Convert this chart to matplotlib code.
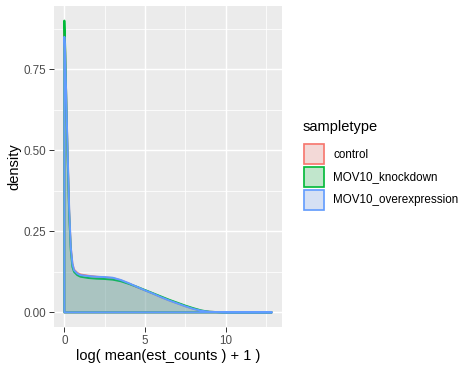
import matplotlib
matplotlib.use("Agg")
import matplotlib.pyplot as plt
from matplotlib.patches import Rectangle
import numpy as np

plt.rcParams['font.family'] = ['Liberation Sans', 'DejaVu Sans']

# ---- data ----
x_grid = [0, 0.05, 0.1, 0.2, 0.3, 0.4, 0.5, 0.6, 0.8, 1.0, 1.5, 2.0, 2.5, 3.0,
          3.5, 4.0, 4.5, 5.0, 5.5, 6.0, 6.5, 7.0, 7.5, 8.0, 8.5, 9.0, 9.5,
          10.0, 11.0, 12.0, 12.85]
dens_control = [0.87, 0.81, 0.70, 0.49, 0.31, 0.20, 0.15, 0.132, 0.122, 0.117,
                0.113, 0.110, 0.108, 0.106, 0.099, 0.089, 0.078, 0.068, 0.058,
                0.047, 0.037, 0.028, 0.019, 0.011, 0.005, 0.002, 0.001,
                0.0, 0.0, 0.0, 0.0]
dens_knockdown = [0.90, 0.82, 0.70, 0.48, 0.30, 0.19, 0.14, 0.125, 0.115, 0.110,
                  0.106, 0.104, 0.103, 0.101, 0.096, 0.088, 0.079, 0.069, 0.059,
                  0.049, 0.039, 0.030, 0.021, 0.013, 0.006, 0.002, 0.001,
                  0.0, 0.0, 0.0, 0.0]
dens_overexpression = [0.85, 0.80, 0.70, 0.50, 0.32, 0.20, 0.15, 0.130, 0.120,
                       0.115, 0.112, 0.110, 0.109, 0.107, 0.100, 0.090, 0.079,
                       0.068, 0.058, 0.047, 0.037, 0.028, 0.019, 0.011, 0.005,
                       0.002, 0.001, 0.0, 0.0, 0.0, 0.0]
groups = ["control", "MOV10_knockdown", "MOV10_overexpression"]
colors = ["#F8766D", "#00BA38", "#619CFF"]
x_ticks = [0, 5, 10]
y_ticks = [0.00, 0.25, 0.50, 0.75]
y_tick_labels = ["0.00", "0.25", "0.50", "0.75"]

W, H = 474, 370
fig = plt.figure(figsize=(W / 100, H / 100), dpi=100)
fig.patch.set_facecolor("white")

L, R, T, B = 54, 282, 6, 327
ax = fig.add_axes([L / W, 1 - B / H, (R - L) / W, (B - T) / H])
ax.set_facecolor("#EBEBEB")
for s in ax.spines.values():
    s.set_visible(False)

xmax = max(x_grid)
ymax = max(max(dens_control), max(dens_knockdown), max(dens_overexpression))
ax.set_xlim(-0.05 * xmax, xmax * 1.05)
ax.set_ylim(-0.05 * ymax, ymax * 1.05)

# grid
for v in [2.5, 7.5, 12.5]:
    ax.axvline(v, color="white", lw=0.55, zorder=0.5)
for v in [0.125, 0.375, 0.625, 0.875]:
    ax.axhline(v, color="white", lw=0.55, zorder=0.5)
for v in x_ticks:
    ax.axvline(v, color="white", lw=1.05, zorder=0.6)
for v in y_ticks:
    ax.axhline(v, color="white", lw=1.05, zorder=0.6)

series = [dens_control, dens_knockdown, dens_overexpression]
for ys, c in zip(series, colors):
    px = [x_grid[0]] + list(x_grid) + [x_grid[-1]]
    py = [0.0] + list(ys) + [0.0]
    ax.fill(px, py, facecolor=matplotlib.colors.to_rgba(c, 0.2),
            edgecolor=c, lw=1.4, zorder=2, joinstyle="round")

ax.set_xticks(x_ticks)
ax.set_xticklabels([str(v) for v in x_ticks])
ax.set_yticks(y_ticks)
ax.set_yticklabels(y_tick_labels)
ax.tick_params(axis="both", length=3.7, width=0.7, color="#333333",
               labelcolor="#4D4D4D", labelsize=8.4, pad=2.0)
ax.set_xlabel("log( mean(est_counts ) + 1 )", fontsize=10.5, color="black",
              labelpad=1.5)
ax.set_ylabel("density", fontsize=10.5, color="black", labelpad=1.5)

# legend (manual, ggplot style)
def fx(px_):
    return px_ / W

def fy(py_):
    return 1 - py_ / H

fig.text(fx(303), fy(127), "sampletype", fontsize=10.5, ha="left", va="center")
key_tops = [143, 166, 189]
for top, c, g in zip(key_tops, colors, groups):
    fig.add_artist(Rectangle((fx(303), fy(top + 22)), 22 / W, 22 / H,
                             transform=fig.transFigure, facecolor="#F2F2F2",
                             edgecolor="none"))
    fig.add_artist(Rectangle((fx(304), fy(top + 21)), 20 / W, 20 / H,
                             transform=fig.transFigure,
                             facecolor=matplotlib.colors.to_rgba(c, 0.2),
                             edgecolor=c, lw=1.2))
    fig.text(fx(333), fy(top + 11.5), g, fontsize=8.4, ha="left", va="center")

fig.savefig("out.png", dpi=100)
